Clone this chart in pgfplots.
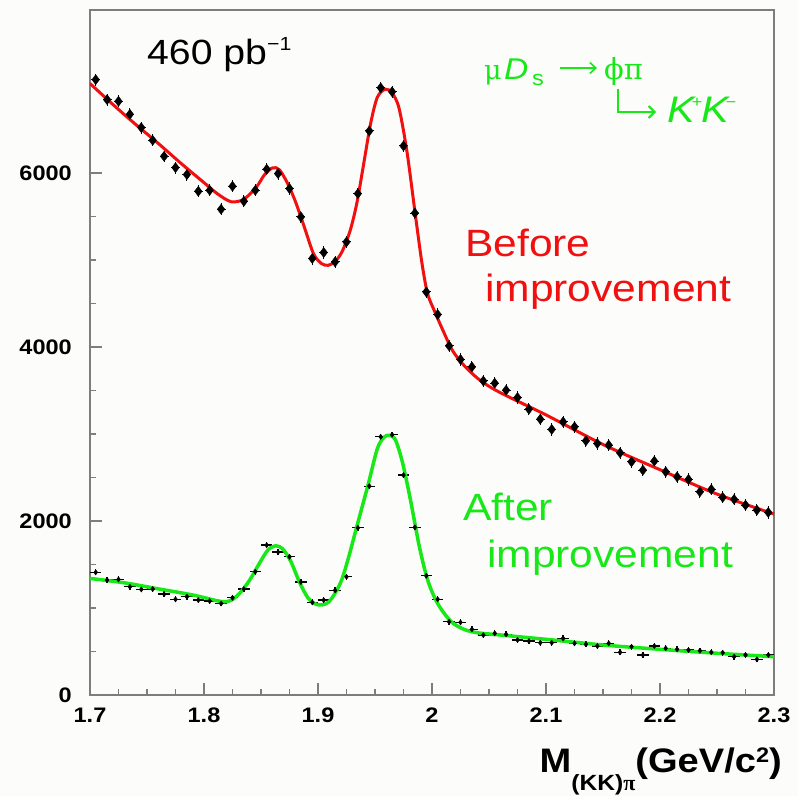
\documentclass[border=0pt]{standalone}
\usepackage{fontspec}
\setmainfont{Liberation Sans}[FakeStretch=1.12]
\newfontfamily\grk{Liberation Serif}
\newfontfamily\grkd{DejaVu Serif}
\usepackage{pgfplots}
\usepackage{pgfplotstable}
\pgfplotsset{compat=1.18}
\usetikzlibrary{arrows.meta}

\definecolor{rootred}{RGB}{240,16,16}
\definecolor{rootgreen}{RGB}{24,232,24}
\definecolor{framegray}{RGB}{125,125,125}
\definecolor{bgcol}{RGB}{252,252,250}

% K+K-pi invariant mass, 10 MeV bins
\pgfplotstableread{
x y
1.705 7074
1.715 6845
1.725 6825
1.735 6676
1.745 6523
1.755 6377
1.765 6193
1.775 6063
1.785 5983
1.795 5791
1.805 5802
1.815 5584
1.825 5848
1.835 5676
1.845 5802
1.855 6044
1.865 5994
1.875 5822
1.885 5496
1.895 5018
1.905 5087
1.915 4979
1.925 5208
1.935 5764
1.945 6484
1.955 6980
1.965 6935
1.975 6312
1.985 5540
1.995 4634
2.005 4374
2.015 4014
2.025 3857
2.035 3772
2.045 3610
2.055 3585
2.065 3504
2.075 3420
2.085 3286
2.095 3171
2.105 3053
2.115 3140
2.125 3083
2.135 2922
2.145 2892
2.155 2873
2.165 2784
2.175 2681
2.185 2585
2.195 2689
2.205 2566
2.215 2508
2.225 2478
2.235 2336
2.245 2364
2.255 2272
2.265 2249
2.275 2183
2.285 2126
2.295 2099
}\beforedata

\pgfplotstableread{
x y
1.705 1410
1.715 1321
1.725 1329
1.735 1244
1.745 1214
1.755 1218
1.765 1160
1.775 1100
1.785 1130
1.795 1091
1.805 1080
1.815 1053
1.825 1118
1.835 1218
1.845 1417
1.855 1723
1.865 1643
1.875 1589
1.885 1298
1.895 1065
1.905 1091
1.915 1203
1.925 1359
1.935 1922
1.945 2401
1.955 2968
1.965 2992
1.975 2528
1.985 1927
1.995 1371
2.005 1100
2.015 842
2.025 835
2.035 755
2.045 689
2.055 709
2.065 697
2.075 632
2.085 620
2.095 601
2.105 601
2.115 651
2.125 594
2.135 583
2.145 563
2.155 594
2.165 491
2.175 555
2.185 460
2.195 563
2.205 537
2.215 525
2.225 517
2.235 509
2.245 491
2.255 486
2.265 440
2.275 460
2.285 410
2.295 460
}\afterdata

% fitted line shapes
\pgfplotstableread{
x y
1.700 7030
1.720 6790
1.740 6560
1.760 6340
1.780 6110
1.800 5890
1.812 5760
1.824 5670
1.835 5700
1.846 5840
1.853 5980
1.860 6060
1.866 6040
1.873 5890
1.880 5680
1.888 5380
1.896 5075
1.903 4960
1.909 4940
1.915 4985
1.921 5094
1.928 5330
1.934 5650
1.940 6100
1.946 6560
1.952 6870
1.959 6965
1.965 6920
1.971 6750
1.978 6250
1.985 5560
1.991 4980
1.996 4620
2.002 4420
2.010 4180
2.018 3960
2.028 3790
2.042 3620
2.060 3475
2.100 3220
2.150 2880
2.200 2590
2.250 2310
2.300 2080
}\beforefit

\pgfplotstableread{
x y
1.700 1340
1.730 1290
1.760 1220
1.790 1150
1.815 1075
1.824 1090
1.832 1180
1.840 1320
1.848 1500
1.856 1666
1.863 1715
1.869 1680
1.876 1540
1.884 1290
1.891 1120
1.897 1050
1.903 1035
1.909 1065
1.915 1170
1.921 1330
1.927 1590
1.934 1934
1.944 2420
1.952 2830
1.958 2965
1.963 2985
1.968 2930
1.974 2680
1.981 2250
1.989 1700
1.996 1330
2.003 1100
2.010 950
2.018 830
2.028 755
2.040 715
2.060 690
2.100 640
2.150 575
2.200 525
2.250 480
2.300 440
}\afterfit

\begin{document}
\begin{tikzpicture}
\path[use as bounding box] (-90pt,-101pt) rectangle (708pt,695pt);
\fill[bgcol] (-90pt,-101pt) rectangle (708pt,695pt);
\begin{axis}[
  scale only axis, width=684pt, height=685pt,
  xmin=1.7, xmax=2.3, ymin=0, ymax=7875,
  axis line style={draw=framegray, line width=1.5pt},
  xtick={1.7,1.8,1.9,2.0,2.1,2.2,2.3},
  xticklabels={1.7,1.8,1.9,2,2.1,2.2,2.3},
  ytick={0,2000,4000,6000},
  minor x tick num=3, minor y tick num=3,
  tick align=inside, xtick pos=bottom, ytick pos=left,
  major tick length=12pt, minor tick length=6pt,
  tick style={draw=framegray, line width=1.2pt},
  /pgf/number format/assume math mode=true,
  scaled y ticks=false,
  yticklabel style={/pgf/number format/1000 sep={}, inner sep=0pt, xshift=-18pt},
  xticklabel style={inner sep=0pt, yshift=-13pt},
  every tick label/.append style={font=\fontsize{21}{21}\selectfont\bfseries, text=black},
  axis background/.style={fill=bgcol},
]
\addplot[only marks, mark=diamond*, mark size=5pt, black,
  error bars/.cd, x dir=both, x fixed=0.004, y dir=both, y fixed=70,
  error mark=none, error bar style={line width=1pt, black}]
  table[x=x, y=y] {\beforedata};
\addplot[only marks, mark=diamond*, mark size=2.6pt, black,
  error bars/.cd, x dir=both, x fixed=0.005, y dir=both, y fixed=35,
  error mark=none, error bar style={line width=1.3pt, black}]
  table[x=x, y=y] {\afterdata};
\addplot[smooth, rootred, line width=3pt] table[x=x, y=y] {\beforefit};
\addplot[smooth, rootgreen, line width=3.5pt] table[x=x, y=y] {\afterfit};
\end{axis}

% luminosity
\node[anchor=base west, inner sep=0pt, font=\fontsize{35}{35}\selectfont]
  at (57pt,630pt) {460 pb\raisebox{14pt}{\fontsize{19}{19}\selectfont −1}};

% decay chain
\begin{scope}[rootgreen]
\node[anchor=base west, inner sep=0pt, text=rootgreen, font=\fontsize{27}{27}\selectfont\grkd]
  at (394pt,615pt) {μ};
\node[anchor=base west, inner sep=0pt, text=rootgreen, font=\fontsize{30}{30}\selectfont\itshape]
  at (414pt,615pt) {D};
\node[anchor=base west, inner sep=0pt, text=rootgreen, font=\fontsize{21}{21}\selectfont]
  at (442pt,609pt) {s};
\draw[line width=1.6pt, -{Straight Barb[length=6pt,width=11pt]}] (470pt,627pt) -- (507pt,627pt);
\node[anchor=base west, inner sep=0pt, text=rootgreen, font=\fontsize{29}{29}\selectfont\grkd]
  at (514pt,615pt) {ϕπ};
\draw[line width=2pt, -{Straight Barb[length=6pt,width=12pt]}]
  (528pt,606pt) -- (528pt,583pt) -- (566pt,583pt);
\node[anchor=base west, inner sep=0pt, text=rootgreen, font=\fontsize{37}{37}\selectfont\itshape]
  at (577pt,572pt) {K\kern-3pt\raisebox{15pt}{\fontsize{16}{16}\selectfont\upshape +}\kern-1pt K\kern-3pt\raisebox{15pt}{\fontsize{16}{16}\selectfont\upshape −}};
\end{scope}

% sample labels
\node[anchor=base west, inner sep=0pt, text=rootred, font=\fontsize{38}{38}\selectfont]
  at (375pt,438pt) {Before};
\node[anchor=base west, inner sep=0pt, text=rootred, font=\fontsize{38}{38}\selectfont]
  at (395pt,393pt) {improvement};
\node[anchor=base west, inner sep=0pt, text=rootgreen, font=\fontsize{38}{38}\selectfont]
  at (373pt,175pt) {After};
\node[anchor=base west, inner sep=0pt, text=rootgreen, font=\fontsize{38}{38}\selectfont]
  at (397pt,128pt) {improvement};

% x axis title
\node[anchor=base east, inner sep=0pt, font=\fontsize{34}{34}\selectfont\bfseries]
  at (692pt,-77pt) {M\raisebox{-18pt}{\fontsize{22}{22}\selectfont (KK){\grk\bfseries π}}(GeV/c\raisebox{10pt}{\fontsize{21}{21}\selectfont 2})};
\end{tikzpicture}
\end{document}
